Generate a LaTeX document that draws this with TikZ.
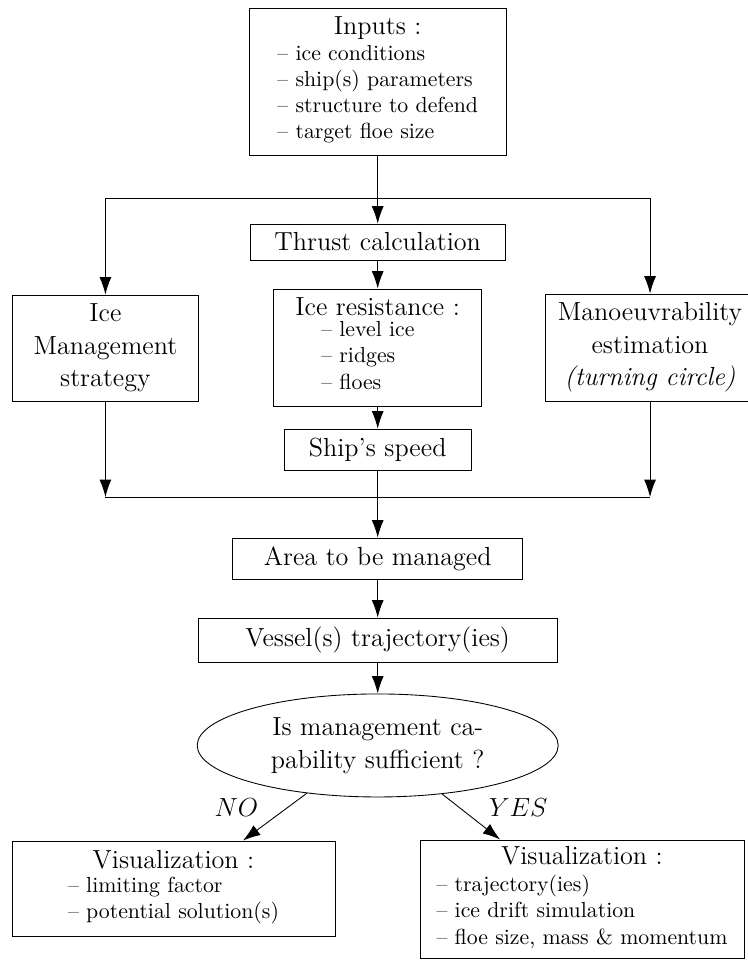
\documentclass[tikz,border=0pt]{standalone}
\usepackage{tikz}
\usetikzlibrary{positioning, shapes.geometric, arrows.meta}

\newcommand{\itemfont}{\fontsize{10}{12}\selectfont}

\tikzset{
    box/.style={draw, rectangle, align=center, inner sep=2pt},
    decide/.style={draw, ellipse, align=center, inner sep=0pt},
    flow/.style={-{Latex[length=8pt,width=5.5pt]}},
    answer/.style={font=\fontsize{12}{14}\selectfont\itshape}
}

\begin{document}
\begin{tikzpicture}[font=\fontsize{12}{15}\selectfont]
        \useasboundingbox (0,0) rectangle (12.045,15.479);

        % boxes
        \node[box, minimum width=4.14cm, minimum height=2.37cm] (inputs) at (6.09,14.165)
            {Inputs :\\ {\itemfont\begin{tabular}{@{}l@{}}
            -- ice conditions\\ -- ship(s) parameters\\ -- structure to defend\\ -- target floe size
            \end{tabular}}};
        \node[box, minimum width=4.11cm, minimum height=0.58cm] (thrust) at (6.09,11.577) {Thrust calculation};
        \node[box, minimum width=3.015cm, minimum height=1.71cm] (mgmt) at (1.70,9.868) {Ice\\ Management\\ strategy};
        \node[box, minimum width=3.354cm, minimum height=1.887cm] (resist) at (6.09,9.876)
            {Ice resistance :\\ {\itemfont\begin{tabular}{@{}l@{\hspace{9pt}}}
            -- level ice\\ -- ridges\\ -- floes
            \end{tabular}}};
        \node[box, minimum width=3.386cm, minimum height=1.725cm] (manoeuv) at (10.481,9.876)
            {Manoeuvrability\\ estimation\\ \textit{(turning circle)}};
        \node[box, minimum width=3.015cm, minimum height=0.661cm] (speed) at (6.09,8.231) {Ship's speed};
        \node[box, minimum width=4.676cm, minimum height=0.661cm] (area) at (6.09,6.474) {Area to be managed};
        \node[box, minimum width=5.789cm, minimum height=0.709cm] (traj) at (6.09,5.160) {Vessel(s) trajectory(ies)};
        \node[decide, minimum width=5.821cm, minimum height=1.661cm] (decision) at (6.09,3.459)
            {Is management ca-\\ pability sufficient ?};
        \node[box, minimum width=5.208cm, minimum height=1.532cm] (visno) at (2.798,1.153)
            {Visualization :\\[2pt] {\itemfont\begin{tabular}{@{}l@{}}
            -- limiting factor\\ -- potential solution(s)
            \end{tabular}}};
        \node[box, minimum width=5.224cm, minimum height=1.903cm] (visyes) at (9.384,0.984)
            {Visualization :\\[3pt] {\itemfont\begin{tabular}{@{}l@{}}
            -- trajectory(ies)\\ -- ice drift simulation\\ -- floe size, mass \& momentum
            \end{tabular}}};

        % buses
        \coordinate (topbus) at (6.09,12.287);
        \coordinate (botbus) at (6.09,7.465);

        % connectors
        \draw[flow] (inputs.south) -- (thrust.north);
        \draw[flow] (topbus -| mgmt) -- (mgmt.north);
        \draw[flow] (topbus -| manoeuv) -- (manoeuv.north);
        \draw (topbus -| mgmt) -- (topbus -| manoeuv);
        \draw[flow] (thrust.south) -- (resist.north);
        \draw[flow] (resist.south) -- (speed.north);
        \draw[flow] (mgmt.south) -- (botbus -| mgmt);
        \draw[flow] (manoeuv.south) -- (botbus -| manoeuv);
        \draw (botbus -| mgmt) -- (botbus -| manoeuv);
        \draw[flow] (speed.south) -- (area.north);
        \draw[flow] (area.south) -- (traj.north);
        \draw[flow] (traj.south) -- (decision.north);
        \draw[flow] (decision.214) -- node[answer, pos=0.3, left=10pt] {$NO$} ([xshift=1.12cm]visno.north);
        \draw[flow] (decision.323) -- node[answer, pos=0.3, right=10pt] {$YES$} ([xshift=-1.32cm]visyes.north);
\end{tikzpicture}
\end{document}
